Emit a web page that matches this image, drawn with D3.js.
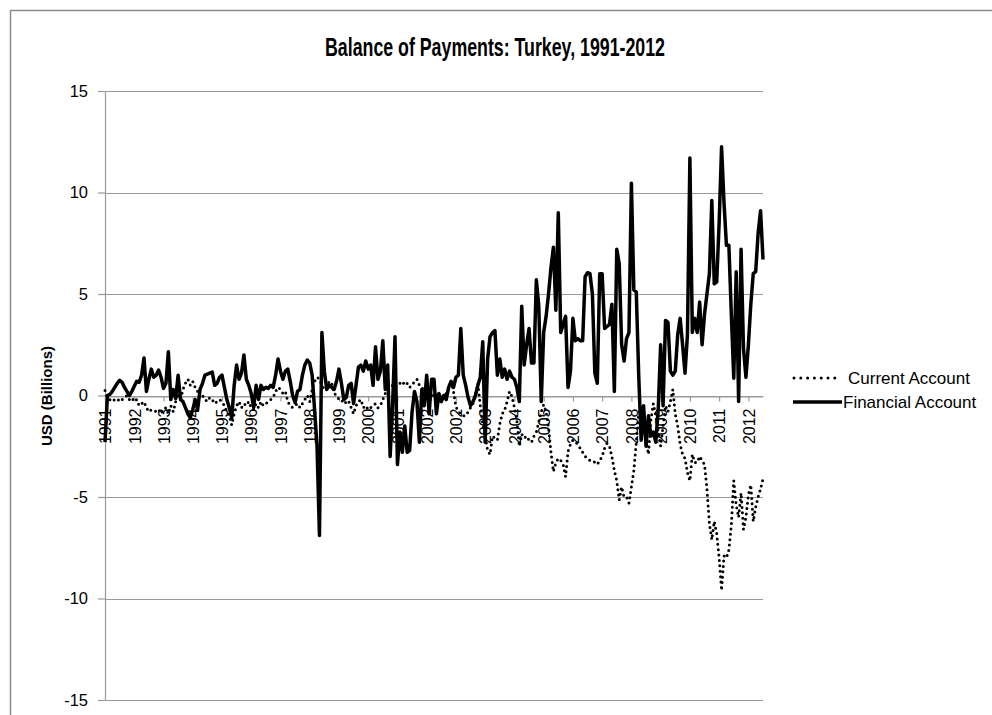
<!DOCTYPE html>
<html><head><meta charset="utf-8">
<script src="https://cdn.jsdelivr.net/npm/d3@7/dist/d3.min.js"></script>
<style>body{margin:0;background:#fff}svg{display:block}</style>
</head><body><svg id="chart" width="992" height="715"></svg>
<script>
// ---- data ----
const chartTitle = "Balance of Payments: Turkey, 1991-2012";
const yTitle = "USD (Billions)";
const seriesNames = ["Current Account", "Financial Account"];
const yearLabels = ["1991","1992","1993","1994","1995","1996","1997","1998","1999","2000","2001",
  "2002","2002","2003","2004","2005","2006","2007","2008","2009","2010","2011","2012"];
const yTicks = [-15,-10,-5,0,5,10,15];

const currentAccount = [
 0.25,-0.1,-0.2,-0.3,-0.2,-0.15,-0.3,-0.2,-0.1,0.0,-0.2,-0.1,
 -0.3,-0.2,-0.5,-0.4,-0.3,-0.6,-0.8,-0.7,-0.7,-0.8,-0.7,-0.9,
 -0.7,-0.6,-0.9,-0.5,-0.8,-0.3,0.1,-0.2,0.3,0.6,0.8,0.5,
 0.7,0.4,0.2,-0.1,0.0,-0.2,-0.3,-0.1,-0.2,-0.4,-0.3,-0.2,
 -0.3,-0.5,-0.8,-1.0,-1.45,-0.9,-0.5,-0.3,-0.6,-0.4,-0.5,-0.3,
 -0.6,-0.7,-0.4,-0.6,-0.3,-0.5,-0.4,-0.3,-0.2,-0.1,0.2,0.4,
 0.3,0.1,0.2,-0.3,-0.5,-0.6,-0.5,-0.4,-0.6,-0.4,-0.2,0.0,
 -0.3,0.3,0.7,0.9,0.8,0.5,0.3,0.4,0.7,0.6,0.1,0.0,
 -0.2,-0.3,-0.2,-0.4,-0.3,-0.6,-0.9,-0.5,-0.3,-0.2,-0.6,-0.5,
 -0.7,-0.6,-0.5,-0.4,-0.6,-0.5,-0.2,0.1,0.3,0.4,0.5,0.4,
 0.6,0.6,0.7,0.5,0.6,0.4,0.5,0.7,0.8,0.5,0.4,0.2,
 0.0,-0.1,0.0,0.0,0.1,0.0,-0.1,0.0,0.1,0.3,0.75,0.2,
 -0.55,-0.8,-0.9,-1.0,-1.0,-0.8,-0.6,-0.4,0.0,0.6,-0.5,-1.4,
 -2.0,-2.7,-2.9,-2.0,-2.1,-2.2,-1.4,-0.9,-0.7,-0.3,0.2,-0.05,
 -0.6,-1.2,-2.5,-1.9,-2.1,-2.0,-2.2,-2.3,-2.0,-1.8,-1.3,-0.8,
 -0.45,-0.8,-1.6,-2.8,-3.75,-3.3,-3.1,-3.2,-3.4,-4.0,-2.75,-2.4,
 -2.2,-2.3,-2.4,-2.6,-2.8,-3.0,-3.1,-3.2,-3.2,-3.3,-3.4,-3.2,
 -3.0,-2.6,-2.35,-2.5,-3.0,-3.7,-4.2,-5.15,-4.5,-5.0,-5.0,-5.3,
 -4.5,-3.7,-2.3,-0.9,-0.6,-1.5,-2.2,-2.9,-1.2,-0.4,-1.0,-1.8,
 -2.5,-1.5,-0.5,-0.8,-0.3,0.3,-0.9,-1.5,-2.4,-2.9,-3.1,-3.8,
 -4.2,-2.9,-3.3,-3.3,-3.0,-3.2,-3.4,-4.6,-6.3,-7.1,-6.2,-6.8,
 -8.0,-9.6,-7.9,-8.0,-7.6,-6.4,-4.2,-5.4,-6.0,-4.8,-6.6,-6.0,
 -4.9,-4.4,-6.2,-5.5,-5.0,-4.6,-4.1
];

const financialAccount = [
 -2.3,0.0,0.05,0.2,0.4,0.6,0.75,0.65,0.4,0.2,0.0,0.2,
 0.45,0.7,0.65,1.0,1.85,0.2,0.8,1.3,0.9,1.0,1.25,0.9,
 0.35,0.6,2.15,-0.2,0.3,-0.15,1.0,-0.2,-0.3,-0.6,-0.9,-1.1,
 -0.7,-0.2,-0.7,0.3,0.6,1.0,1.05,1.1,1.15,0.5,0.6,0.9,
 1.0,0.4,-0.2,-0.6,-1.1,0.5,1.5,0.8,1.1,2.0,0.8,0.5,
 0.1,-0.6,0.5,-0.2,0.5,0.3,0.4,0.35,0.5,0.4,1.0,1.8,
 1.2,0.8,1.2,1.3,0.7,0.0,-0.35,0.2,0.3,1.0,1.5,1.75,
 1.6,1.0,-0.7,-2.5,-6.9,3.1,1.2,0.3,0.5,0.4,0.3,0.7,
 1.3,0.6,-0.2,-0.1,0.5,0.6,-0.4,0.5,1.4,1.5,1.2,1.7,
 1.3,1.5,0.5,2.4,0.8,1.2,2.7,0.3,1.5,-3.0,-0.5,2.9,
 -3.4,-1.8,-2.8,-1.5,-2.8,-2.7,-0.8,0.2,-0.3,-2.3,0.3,-0.5,
 1.0,-0.9,0.8,0.8,-0.9,0.1,-0.3,0.0,-0.2,0.4,0.7,0.4,
 0.9,1.0,3.3,1.0,0.5,-0.1,-0.5,-0.3,0.0,0.5,0.9,2.65,
 -2.3,1.8,2.9,3.1,3.2,1.0,1.8,0.9,1.3,0.8,1.2,0.9,
 0.8,0.4,-0.3,4.4,1.5,2.5,3.3,1.6,1.6,5.7,4.4,-0.3,
 3.1,3.9,5.0,6.3,7.3,4.2,9.0,3.1,3.5,3.9,0.4,1.2,
 3.8,2.7,2.8,2.7,2.7,5.85,6.05,6.0,5.0,1.1,0.6,6.0,
 6.0,3.3,3.4,3.5,4.5,0.2,7.2,6.5,2.5,1.7,2.8,3.1,
 10.45,5.2,5.1,1.0,-2.2,-0.5,-2.5,-1.0,-2.0,-1.8,-2.3,-0.7,
 2.5,-0.5,3.7,3.6,1.2,1.0,1.2,3.0,3.8,2.5,1.1,3.0,
 11.7,3.1,3.8,3.1,4.6,2.5,4.0,5.0,6.0,9.6,5.5,5.6,
 8.5,12.25,9.5,7.4,7.4,4.0,0.85,6.1,-0.3,7.2,2.3,0.9,
 2.5,4.5,6.0,6.1,8.0,9.1,6.7
];

// ---- drawing ----
const svg = d3.select("#chart");
const W = 992, H = 715;
const plot = {left: 105, right: 763, top: 91, bottom: 700};
const gridColor = "#9a9a9a";
const font = "'Liberation Sans', Arial, sans-serif";

svg.append("rect").attr("x", 0).attr("y", 0).attr("width", W).attr("height", H).attr("fill", "#fff");
svg.append("rect").attr("x", 10.5).attr("y", 10.5).attr("width", 1000).attr("height", 800)
  .attr("fill", "none").attr("stroke", "#8c8c8c").attr("stroke-width", 1.5);

const n = financialAccount.length;
const x = d3.scaleLinear().domain([0, n - 1]).range([plot.left, plot.right]);
const y = d3.scaleLinear().domain([-15, 15]).range([plot.bottom, plot.top]);

// gridlines
svg.append("g").selectAll("line").data(yTicks).join("line")
  .attr("x1", plot.left).attr("x2", plot.right)
  .attr("y1", d => Math.round(y(d)) + 0.5).attr("y2", d => Math.round(y(d)) + 0.5)
  .attr("stroke", gridColor).attr("stroke-width", 1.2);

// y axis
const yAxis = svg.append("g").attr("transform", `translate(${plot.left},0)`)
  .call(d3.axisLeft(y).tickValues(yTicks).tickSize(7).tickPadding(10).tickFormat(d3.format("d")));
yAxis.select(".domain").attr("stroke", gridColor).attr("stroke-width", 1.2);
yAxis.selectAll(".tick line").attr("stroke", gridColor).attr("stroke-width", 1.2);
yAxis.selectAll("text").attr("font-family", font).attr("font-size", 16.5).attr("fill", "#000")
  .text(d => d < 0 ? "-" + Math.abs(d) : d);

// x axis at zero
const tickIdx = yearLabels.map((_, k) => k * 12);
const xAxis = svg.append("g").attr("transform", `translate(0,${Math.round(y(0)) + 0.5})`)
  .call(d3.axisBottom(x).tickValues(tickIdx).tickSize(5).tickSizeOuter(0)
    .tickFormat((d) => yearLabels[d / 12]));
xAxis.select(".domain").attr("stroke", gridColor).attr("stroke-width", 1.2);
xAxis.selectAll(".tick line").attr("stroke", gridColor).attr("stroke-width", 1.2);
xAxis.selectAll("text")
  .attr("font-family", font).attr("font-size", 16).attr("fill", "#000")
  .attr("transform", "rotate(-90)")
  .attr("text-anchor", "end")
  .attr("x", -12).attr("y", 0).attr("dy", "0.36em");

// lines
const line = d3.line().x((d, i) => x(i)).y(d => y(d));
svg.append("path").datum(currentAccount).attr("d", line)
  .attr("fill", "none").attr("stroke", "#000").attr("stroke-width", 3)
  .attr("stroke-linecap", "round").attr("stroke-dasharray", "0 5.4");
svg.append("path").datum(financialAccount).attr("d", line)
  .attr("fill", "none").attr("stroke", "#000").attr("stroke-width", 3.5)
  .attr("stroke-linejoin", "round");

// title
svg.append("text").attr("x", 495).attr("y", 56).attr("text-anchor", "middle")
  .attr("font-family", font).attr("font-weight", "bold").attr("font-size", 25)
  .attr("textLength", 340).attr("lengthAdjust", "spacingAndGlyphs")
  .text(chartTitle);

// y title
svg.append("text").attr("transform", "translate(52,396) rotate(-90)")
  .attr("text-anchor", "middle").attr("font-family", font).attr("font-weight", "bold")
  .attr("font-size", 15).text(yTitle);

// legend
const legY = [378, 402];
const leg = svg.append("g");
leg.append("line").attr("x1", 794).attr("x2", 837).attr("y1", legY[0]).attr("y2", legY[0])
  .attr("stroke", "#000").attr("stroke-width", 3).attr("stroke-linecap", "round").attr("stroke-dasharray", "0 6.8");
leg.append("line").attr("x1", 793).attr("x2", 842).attr("y1", legY[1]).attr("y2", legY[1])
  .attr("stroke", "#000").attr("stroke-width", 3.5);
leg.selectAll("text").data(seriesNames).join("text")
  .attr("x", (d, i) => i === 0 ? 848 : 843).attr("y", (d, i) => legY[i]).attr("dy", "0.35em")
  .attr("font-family", font).attr("font-size", 17).text(d => d);
</script></body></html>
